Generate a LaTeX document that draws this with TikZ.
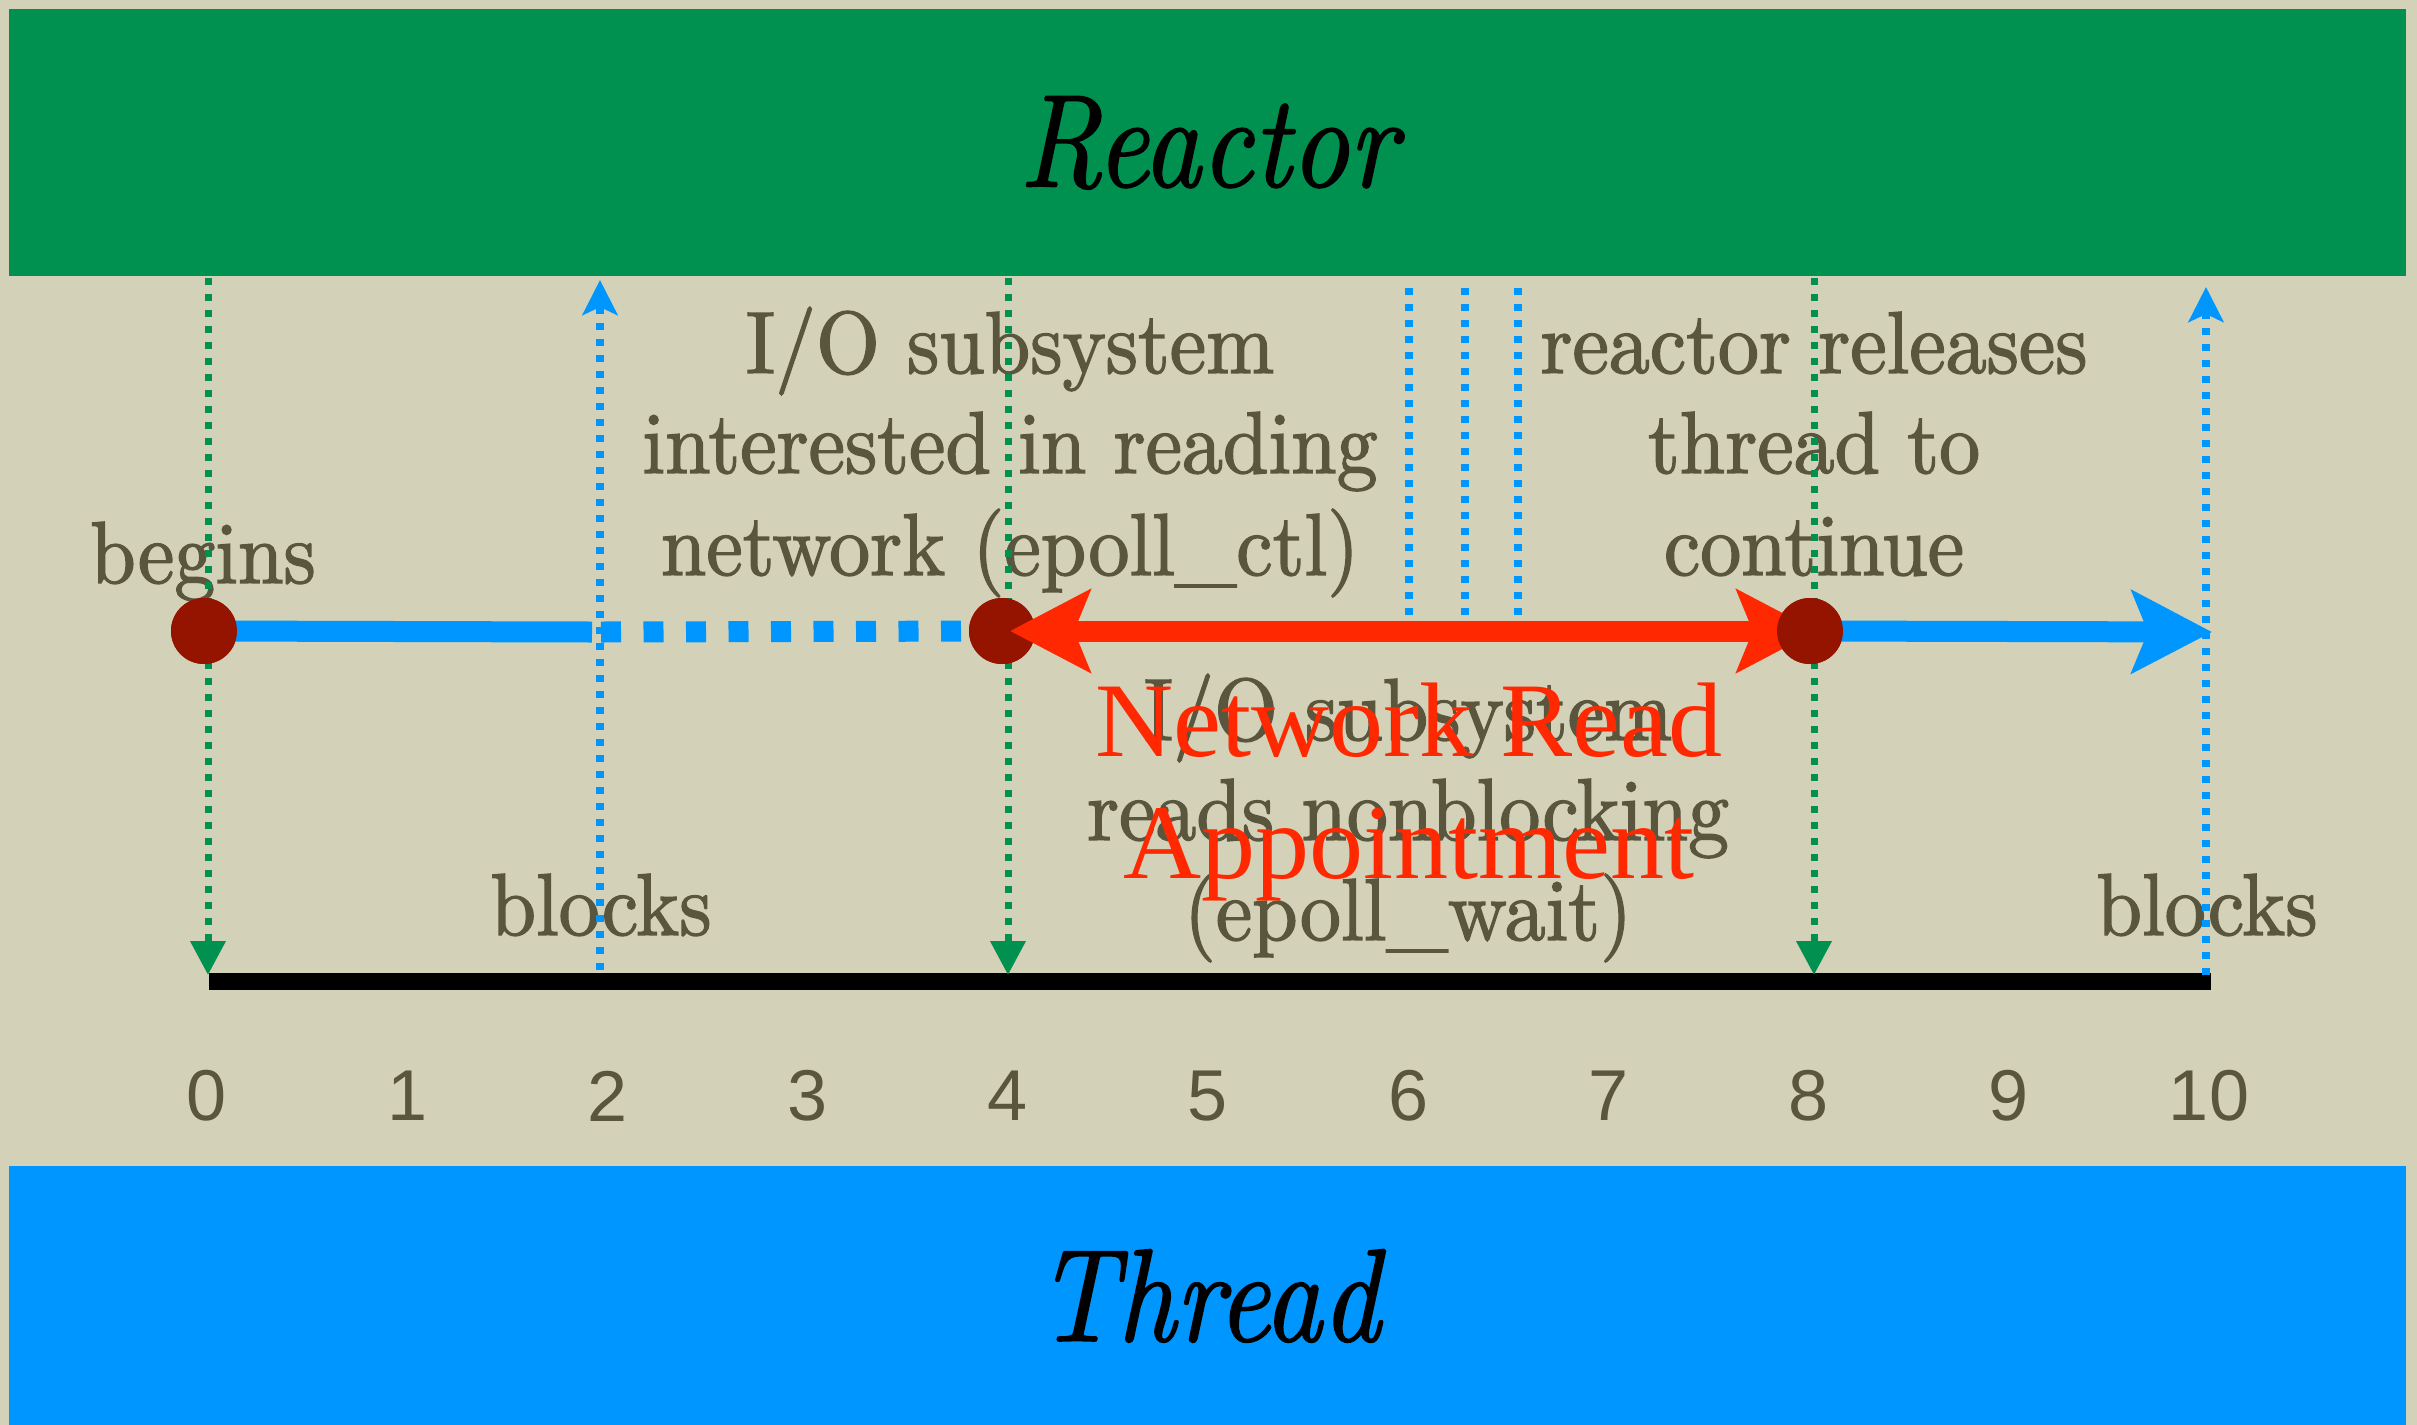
\documentclass[tikz,border=0pt]{standalone}
\usepackage{fontspec}
\usetikzlibrary{arrows.meta}

% fonts
\newfontfamily\labelfont[FakeStretch=0.93,FakeBold=1.6]{lmroman10-regular.otf}
\newfontfamily\bandfont[FakeStretch=0.86,FakeBold=1.2]{lmroman10-italic.otf}
\newfontfamily\notefont[FakeStretch=1.02]{Liberation Serif}
\newfontfamily\tickfont{Liberation Sans}

% colours
\definecolor{paper}{RGB}{211,209,184}
\definecolor{reactorgreen}{RGB}{0,145,80}
\definecolor{threadblue}{RGB}{0,150,255}
\definecolor{ink}{RGB}{90,86,62}
\definecolor{eventred}{RGB}{148,20,0}
\definecolor{apptred}{RGB}{255,40,0}

\tikzset{bighead/.tip={Stealth[length=40pt,width=41pt,inset=8pt]}}

\begin{document}
\begin{tikzpicture}[x=0.5pt,y=-0.5pt,
  band/.style={anchor=north west, inner sep=0pt, minimum width=1198.5pt,
    minimum height=133.5pt, text=black,
    font=\bandfont\fontsize{66pt}{70pt}\selectfont},
  lbl/.style={anchor=base, inner sep=0pt, text=ink,
    font=\labelfont\fontsize{44pt}{50pt}\selectfont},
  note/.style={anchor=base, inner sep=0pt, text=apptred,
    font=\notefont\fontsize{53pt}{60pt}\selectfont},
  tick/.style={inner sep=0pt, text=ink,
    font=\tickfont\fontsize{36pt}{40pt}\selectfont},
  event/.style={circle, fill=eventred, inner sep=0pt, minimum size=33pt},
  axis/.style={black, line width=8.5pt},
  drop/.style={reactorgreen, line width=3.5pt, dash pattern=on 3.5pt off 4.5pt,
    -{Triangle[length=17pt,width=17pt]}},
  rise/.style={threadblue, line width=4pt, dash pattern=on 3.5pt off 4.5pt,
    -{Stealth[length=17.5pt,width=17.5pt,inset=4pt]}},
  poll/.style={threadblue, line width=4pt, dash pattern=on 3.5pt off 4.5pt},
  flow/.style={threadblue, line width=10.5pt},
  appt/.style={apptred, line width=10.5pt},
]
% paper
\fill[paper] (0,0) rectangle (2417,1425);
\useasboundingbox (0,0) rectangle (2417,1425);

% bands
\node[band, fill=reactorgreen] (reactor) at (9,9) {Reactor};
\node[band, fill=threadblue, minimum height=129.5pt] (thread) at (9,1166) {Thread};

% labels
\node[lbl] (begins) at (203,583) {begins};
\node[lbl] (blocksA) at (601,935) {blocks};
\node[lbl] (blocksB) at (2207,935) {blocks};

\node[lbl] (ctlA) at (1010,373) {I/O subsystem};
\node[lbl] (ctlB) at (1010,473) {interested in reading};
\node[lbl] (ctlC) at (1010,575) {network (epoll\_ctl)};

\node[lbl] (relA) at (1814,373) {reactor releases};
\node[lbl] (relB) at (1814,473) {thread to};
\node[lbl] (relC) at (1814,575) {continue};

\node[lbl] (waitA) at (1408,740) {I/O subsystem};
\node[lbl] (waitB) at (1408,840) {reads nonblocking};
\node[lbl] (waitC) at (1408,940) {(epoll\_wait)};

% time scale
\foreach \i in {0,...,10}
  \node[tick] (n\i) at ({207+200.2*\i},1096) {\i};

\coordinate (axL) at (209,981.5);
\coordinate (axR) at (2211,981.5);
\draw[axis] (axL) -- (axR);

% reactor -> thread hand-offs
\coordinate (g0top) at (208,278);  \coordinate (g0bot) at (208,975);
\coordinate (g4top) at (1008,278); \coordinate (g4bot) at (1008,975);
\coordinate (g8top) at (1814,278); \coordinate (g8bot) at (1814,975);
\draw[drop] (g0top) -- (g0bot);
\draw[drop] (g4top) -- (g4bot);
\draw[drop] (g8top) -- (g8bot);

% thread -> reactor hand-offs
\coordinate (b2bot) at (600,970);   \coordinate (b2top) at (600,280);
\coordinate (b10bot) at (2206,975); \coordinate (b10top) at (2206,287);
\draw[rise] (b2bot) -- (b2top);
\draw[rise] (b10bot) -- (b10top);

% polling
\foreach \k/\px in {a/1409,b/1465,c/1518}{
  \coordinate (p\k top) at (\px,288);
  \coordinate (p\k bot) at (\px,615);
  \draw[poll] (p\k top) -- (p\k bot);
}

% thread activity
\node[event] (e0) at (204,631) {};
\node[event] (e4) at (1002,631) {};
\node[event] (e8) at (1810,631) {};
\coordinate (runEnd) at (592,632);
\coordinate (waitStart) at (601,632);
\coordinate (runTip) at (2212,632);
\draw[flow] (e0.center) -- (runEnd);
\draw[flow, dash pattern=on 10pt off 11.25pt] (waitStart) -- (e4.center);
\draw[flow, -{bighead}] (e8.center) -- (runTip);
\node[event] at (e0) {};
\node[event] at (e4) {};
\draw[appt, {bighead}-{bighead}]
  ([xshift=4pt]e4.center) -- ([xshift=3.5pt]e8.center);
\node[event] at (e8) {};

% appointment caption
\node[note] (apptA) at (1409,756) {Network Read};
\node[note] (apptB) at (1409,878) {Appointment};
\end{tikzpicture}
\end{document}
